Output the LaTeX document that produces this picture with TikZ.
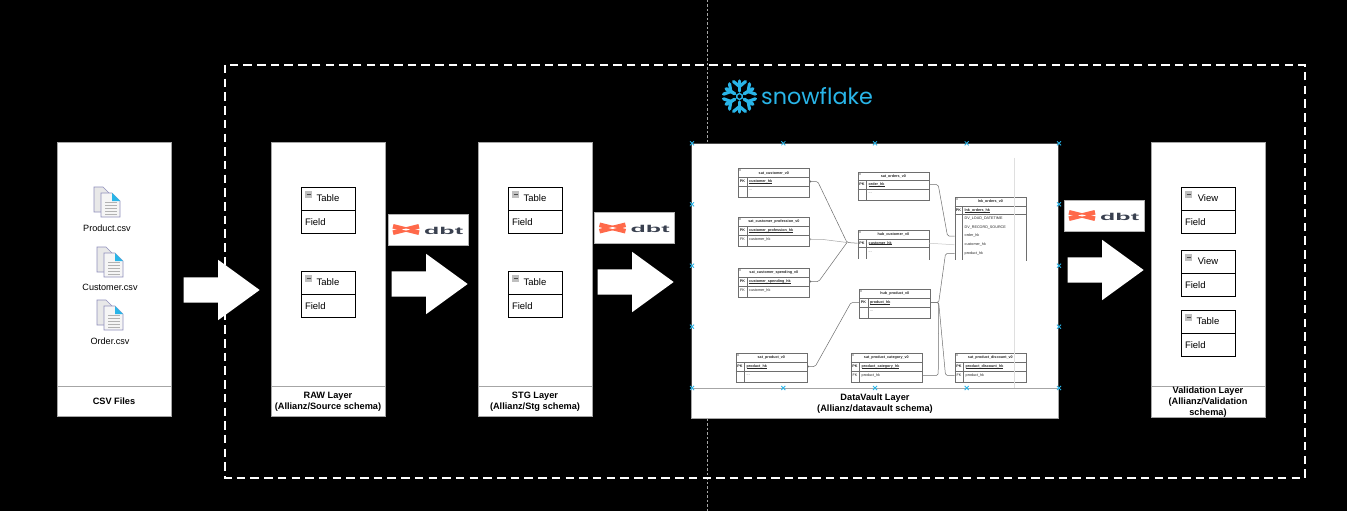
\documentclass[tikz,border=0pt]{standalone}
\usepackage{fontspec}
\setmainfont{Liberation Sans}
\newfontfamily\snowfont{Poppins}
\usetikzlibrary{arrows.meta,calc,positioning,shapes.arrows}
\definecolor{snowblue}{HTML}{29B5E8}
\definecolor{dbtred}{HTML}{FF694A}
\definecolor{dbtgrey}{HTML}{3A4150}
\definecolor{erline}{HTML}{6E6E6E}
\tikzset{panel/.style={draw=gray!70, fill=white, minimum width=114pt, inner sep=0pt},
  capbox/.style={draw=gray!70, fill=white, align=center, inner sep=0pt, minimum width=114pt, font=\bfseries\fontsize{9.2}{11}\selectfont},
  tb/.style={draw=black, fill=white, minimum width=54pt, minimum height=23pt, inner sep=0pt, font=\fontsize{9.5}{11}\selectfont},
  tbf/.style={tb, align=left, text width=46pt},
  lab/.style={inner sep=0pt, font=\fontsize{9.1}{11}\selectfont},
  bigarrow/.style={single arrow, fill=white, inner sep=0pt, text height=25pt, text depth=0pt, text width=1pt,
    minimum height=76pt, minimum width=60pt, single arrow head extend=17.5pt, single arrow tip angle=72, anchor=tip},
  dbtbox/.style={draw=gray!60, fill=white, minimum width=80pt, minimum height=31pt, inner sep=0pt},
  er/.style={draw=erline, fill=white, line width=.7pt, minimum width=71pt, anchor=north west, inner sep=0pt},
  ertxt/.style={inner sep=0pt, text=black!85, font=\fontsize{3.7}{4}\selectfont},
  erl/.style={draw=erline, line width=.5pt, rounded corners=1.5pt},
  ermark/.style={erl, {Circle[open,length=1.8pt]}-},
  tick/.style={snowblue, line width=.8pt}}
\newcommand{\erdots}{...}
\newlength{\erwd}
\newcommand{\erul}[1]{\settowidth{\erwd}{#1}#1\hspace{-\erwd}\rule[-.6pt]{\erwd}{.35pt}}
\newcommand{\minusbox}[2]{% small collapse box of a table
  \fill[gray!50] (#1,#2) rectangle ++(7,7);
  \draw[black!70, line width=.6pt] (#1+1.5,#2+3.5) -- ++(4,0);}
\newcommand{\dbtlogo}[3]{% white box, cross and wordmark
  \node[dbtbox] (#1) at (#2,#3) {};
  \draw[dbtred, line width=4.6pt] ($(#1.center)+(-35,-3.2)$) -- ++(26,6.4);
  \draw[dbtred, line width=4.6pt] ($(#1.center)+(-35,3.2)$) -- ++(26,-6.4);
  \fill[white] ($(#1.center)+(-22,-1)$) -- ++(4,1) -- ++(-4,1) -- ++(-4,-1) -- cycle;
  \node[inner sep=0pt, text=dbtgrey, anchor=west] (#1txt) at ($(#1.center)+(-4,1)$)
    {\scalebox{2.5}[1]{\bfseries\fontsize{10}{10}\selectfont dbt}};}
\tikzset{csvicon/.pic={
  \draw[fill=gray!18, draw=blue!25!gray!70, line width=.7pt] (0,0) -- (9,0) -- (15,6) -- (15,25) -- (0,25) -- cycle;
  \draw[fill=gray!8, draw=blue!25!gray!70, line width=.7pt] (7,6) -- (18,6) -- (26,14) -- (26,30) -- (7,30) -- cycle;
  \fill[snowblue] (18,6) -- (26,14) -- (18,14) -- cycle;
  \foreach \l in {15,18,21,24,27}{\draw[gray!60, line width=.6pt] (11,\l) -- (23,\l);}}}

\begin{document}
\begin{tikzpicture}[x=1pt,y=-1pt]
  \useasboundingbox (0,0) rectangle (1347,511);
  \fill[black] (0,0) rectangle (1347,511);
  \coordinate (lt) at (707,0);
  \coordinate (lb) at (707,511);
  \draw[gray!70, line width=1pt, dash pattern=on 2.5pt off 2pt] (lt) -- (lb);
  \draw[white, line width=2pt, dash pattern=on 8.5pt off 5.2pt] (225,65) rectangle (1305,478);
  % logo top
  \foreach \a in {30,90,150,210,270,330}{
    \begin{scope}[shift={(739.5,96.5)}, rotate=\a]
      \draw[snowblue, line width=3.4pt, line cap=round] (5.5,0) -- (15.5,0);
      \draw[snowblue, line width=3.2pt, line cap=round] (15,-6) -- (10,0) -- (15,6);
    \end{scope}}
  \draw[snowblue, line width=1.4pt] (739.5,93.5) -- (742.1,95) -- (742.1,98) -- (739.5,99.5) -- (736.9,98) -- (736.9,95) -- cycle;
  \node[inner sep=0pt, anchor=base west, text=snowblue, font=\snowfont\fontsize{22.3}{23}\selectfont] (snow) at (761,104.3) {snowflake};
  % layer panels
  \foreach \n/\x/\t in {csv/114/CSV Files,raw/328/{RAW Layer\\(Allianz/Source schema)},stg/535/{STG Layer\\(Allianz/Stg schema)}}{
    \node[panel, minimum height=244pt] (\n) at (\x,264) {};
    \node[capbox, minimum height=30pt, below=0pt of \n] (\n cap) {\t};}
  \node[panel, draw=black!70, minimum width=367pt, minimum height=245pt] (dv) at (875,265.5) {};
  \node[capbox, minimum width=367pt, minimum height=30pt, below=0pt of dv, font=\bfseries\fontsize{9.2}{10.6}\selectfont] (dvcap) {DataVault Layer\\(Allianz/datavault schema)};
  \node[panel, minimum height=244pt] (val) at (1208,264) {};
  \node[capbox, minimum height=30pt, below=0pt of val] (valcap) {Validation Layer\\(Allianz/Validation\\schema)};
  % csv files
  \foreach \n/\x/\y/\t/\ty in {pr/94/187/Product.csv/228,cu/97/247/Customer.csv/287,or/97/300/Order.csv/341}{
    \pic at (\x,\y) {csvicon};
    \node[lab] (\n) at ($(\x,\ty)+(13,0)$) {\t};}
  % small tables
  \foreach \n/\x/\y/\t in {ta/328/198.5/Table,tb/328/282.5/Table,tc/535/198.5/Table,td/535/282.5/Table,te/1208/198.5/View,tf/1208/261.5/View,tg/1208/321.5/Table}{
    \node[tb] (\n) at (\x,\y) {\t};
    \node[tbf, below=0pt of \n] (\n f) {Field};
    \minusbox{\x-23}{\y-8}}
  % big arrows
  \foreach \n/\x/\y in {ar/260/290,ab/468/284,ac/674/282,ad/1144/270}{
    \node[bigarrow] (\n) at (\x,\y) {};}
  % dbt
  \dbtlogo{da}{428}{229.5}
  \dbtlogo{db}{634.5}{228}
  \dbtlogo{dc}{1104}{215.5}
  % er tables
  \foreach \n/\x/\y/\t/\k/\h/\f/\r in {
    scu/738/168.3/sat\_customer\_v0/PK/customer\_hk//\erdots,
    spr/738/217.3/sat\_customer\_profession\_v0/PK/customer\_profession\_hk/FK/customer\_hk,
    ssp/738/268.3/sat\_customer\_spending\_v0/PK/customer\_spending\_hk/FK/customer\_hk,
    sor/857.5/171.5/sat\_orders\_v0/PK/order\_hk//\erdots,
    hcu/857.5/230/hub\_customer\_v0/PK/customer\_hk//\erdots,
    hpr/859/289.3/hub\_product\_v0/PK/product\_hk//\erdots,
    spd/735.5/353.3/sat\_product\_v0/PK/product\_hk//\erdots,
    spc/850.5/353.3/sat\_product\_category\_v0/PK/product\_category\_hk/FK/product\_hk,
    sdi/954.5/353.3/sat\_product\_discount\_v0/PK/product\_discount\_hk/FK/product\_hk}{
    \node[er, minimum height=28.5pt] (\n) at (\x,\y) {};
    \draw[erline, line width=.6pt] ($(\n.north west)+(0,9)$) -- ++(71,0);
    \draw[erline, line width=.6pt] ($(\n.north west)+(0,17.5)$) -- ++(71,0);
    \draw[erline, line width=.5pt] ($(\n.north west)+(9,9)$) -- ++(0,19.5);
    \fill[gray!50] ($(\n.north west)+(1,1)$) rectangle ++(2,2);
    \node[ertxt] (\n t) at ($(\n.north)+(0,4.7)$) {\textbf{\t}};
    \node[ertxt] (\n k) at ($(\n.north west)+(4.5,13.2)$) {\textbf{\k}};
    \node[ertxt, anchor=west] (\n h) at ($(\n.north west)+(11,13.2)$) {\textbf{\erul{\h}}};
    \node[ertxt] (\n g) at ($(\n.north west)+(4.5,22)$) {\f};
    \node[ertxt, anchor=west] (\n r) at ($(\n.north west)+(11,22)$) {\r};
    \coordinate (\n a) at ($(\n.north east)+(0,13.2)$);
    \coordinate (\n b) at ($(\n.north east)+(0,22)$);
    \coordinate (\n c) at ($(\n.north west)+(0,13.2)$);
    \coordinate (\n d) at ($(\n.north west)+(0,22)$);}
  \draw[white, line width=1pt] (hcu.south west) -- (hcu.south east);
  % link table
  \node[er, minimum height=62.5pt] (lnk) at (954.5,197.3) {};
  \draw[white, line width=1pt] (lnk.south west) -- (lnk.south east);
  \draw[erline, line width=.6pt] ($(lnk.north west)+(0,8.7)$) -- ++(71,0);
  \draw[erline, line width=.8pt] ($(lnk.north west)+(0,17.4)$) -- ++(71,0);
  \draw[erline, line width=.5pt] ($(lnk.north west)+(8,8.7)$) -- ++(0,53.8);
  \fill[gray!50] ($(lnk.north west)+(1,1)$) rectangle ++(2,2);
  \node[ertxt] (lnkt) at ($(lnk.north)+(0,4.5)$) {\textbf{lnk\_orders\_v0}};
  \node[ertxt] (lnkk) at ($(lnk.north west)+(4,13)$) {\textbf{PK}};
  \node[ertxt, anchor=west] (lnkh) at ($(lnk.north west)+(10,13)$) {\textbf{\erul{lnk\_orders\_hk}}};
  \foreach \n/\y/\t in {lo/21.5/DV\_LOAD\_DATETIME,ls/30/DV\_RECORD\_SOURCE,lor/38.7/order\_hk,lcu/47.5/customer\_hk,lpr/56.3/product\_hk}{
    \node[ertxt, anchor=west] (\n) at ($(lnk.north west)+(10,\y)$) {\t};
    \coordinate (\n w) at ($(lnk.north west)+(0,\y)$);}
  \draw[gray!25, line width=.5pt] ($(dv.north)+(139,15)$) -- ($(dv.south)+(139,0)$);
  % er links
  \coordinate (hin) at (847,242.5);
  \draw[ermark] (scua) -- ++(8,0) -- (hin) -- (hcuc);
  \draw[ermark, draw=gray!70] (sprb) -- ++(12,0) -- (hin);
  \draw[ermark] (sspa) -- ++(9,0) -- (hin);
  \draw[erl] (sora) -- ++(9,0) -- ($(lorw)+(-7,0)$) -- (lorw);
  \draw[erl, draw=gray!45] (hcua) -- (lcuw);
  \draw[erl] (hpra) -- ++(8,0) -- ($(lprw)+(-9,0)$) -- (lprw);
  \draw[ermark] (spda) -- ++(8,0) -- ($(hprc)+(-8,0)$) -- (hprc);
  \draw[erl] (spcb) -- ++(16,0) -- ($(hpra)+(8,0)$);
  \draw[erl] (hpra) -- ++(8,0) -- ($(sdid)+(-9,0)$) -- (sdid);
  % anchor ticks
  \foreach \n/\x/\y in {ka/692/143.3,kb/783.3/143.3,kc/875/143.3,kd/966.7/143.3,ke/1059/143.3,kf/692/388,kg/783.3/388,kh/875/388,ki/966.7/388,kj/1059/388,kk/692/204.3,kl/692/265.7,km/692/326.7,kn/1059/204.3,ko/1059/265.7,kp/1059/326.7}{
    \draw[tick] (\x-2,\y-2) -- ++(4,4);
    \draw[tick] (\x-2,\y+2) -- ++(4,-4);}
\end{tikzpicture}
\end{document}
